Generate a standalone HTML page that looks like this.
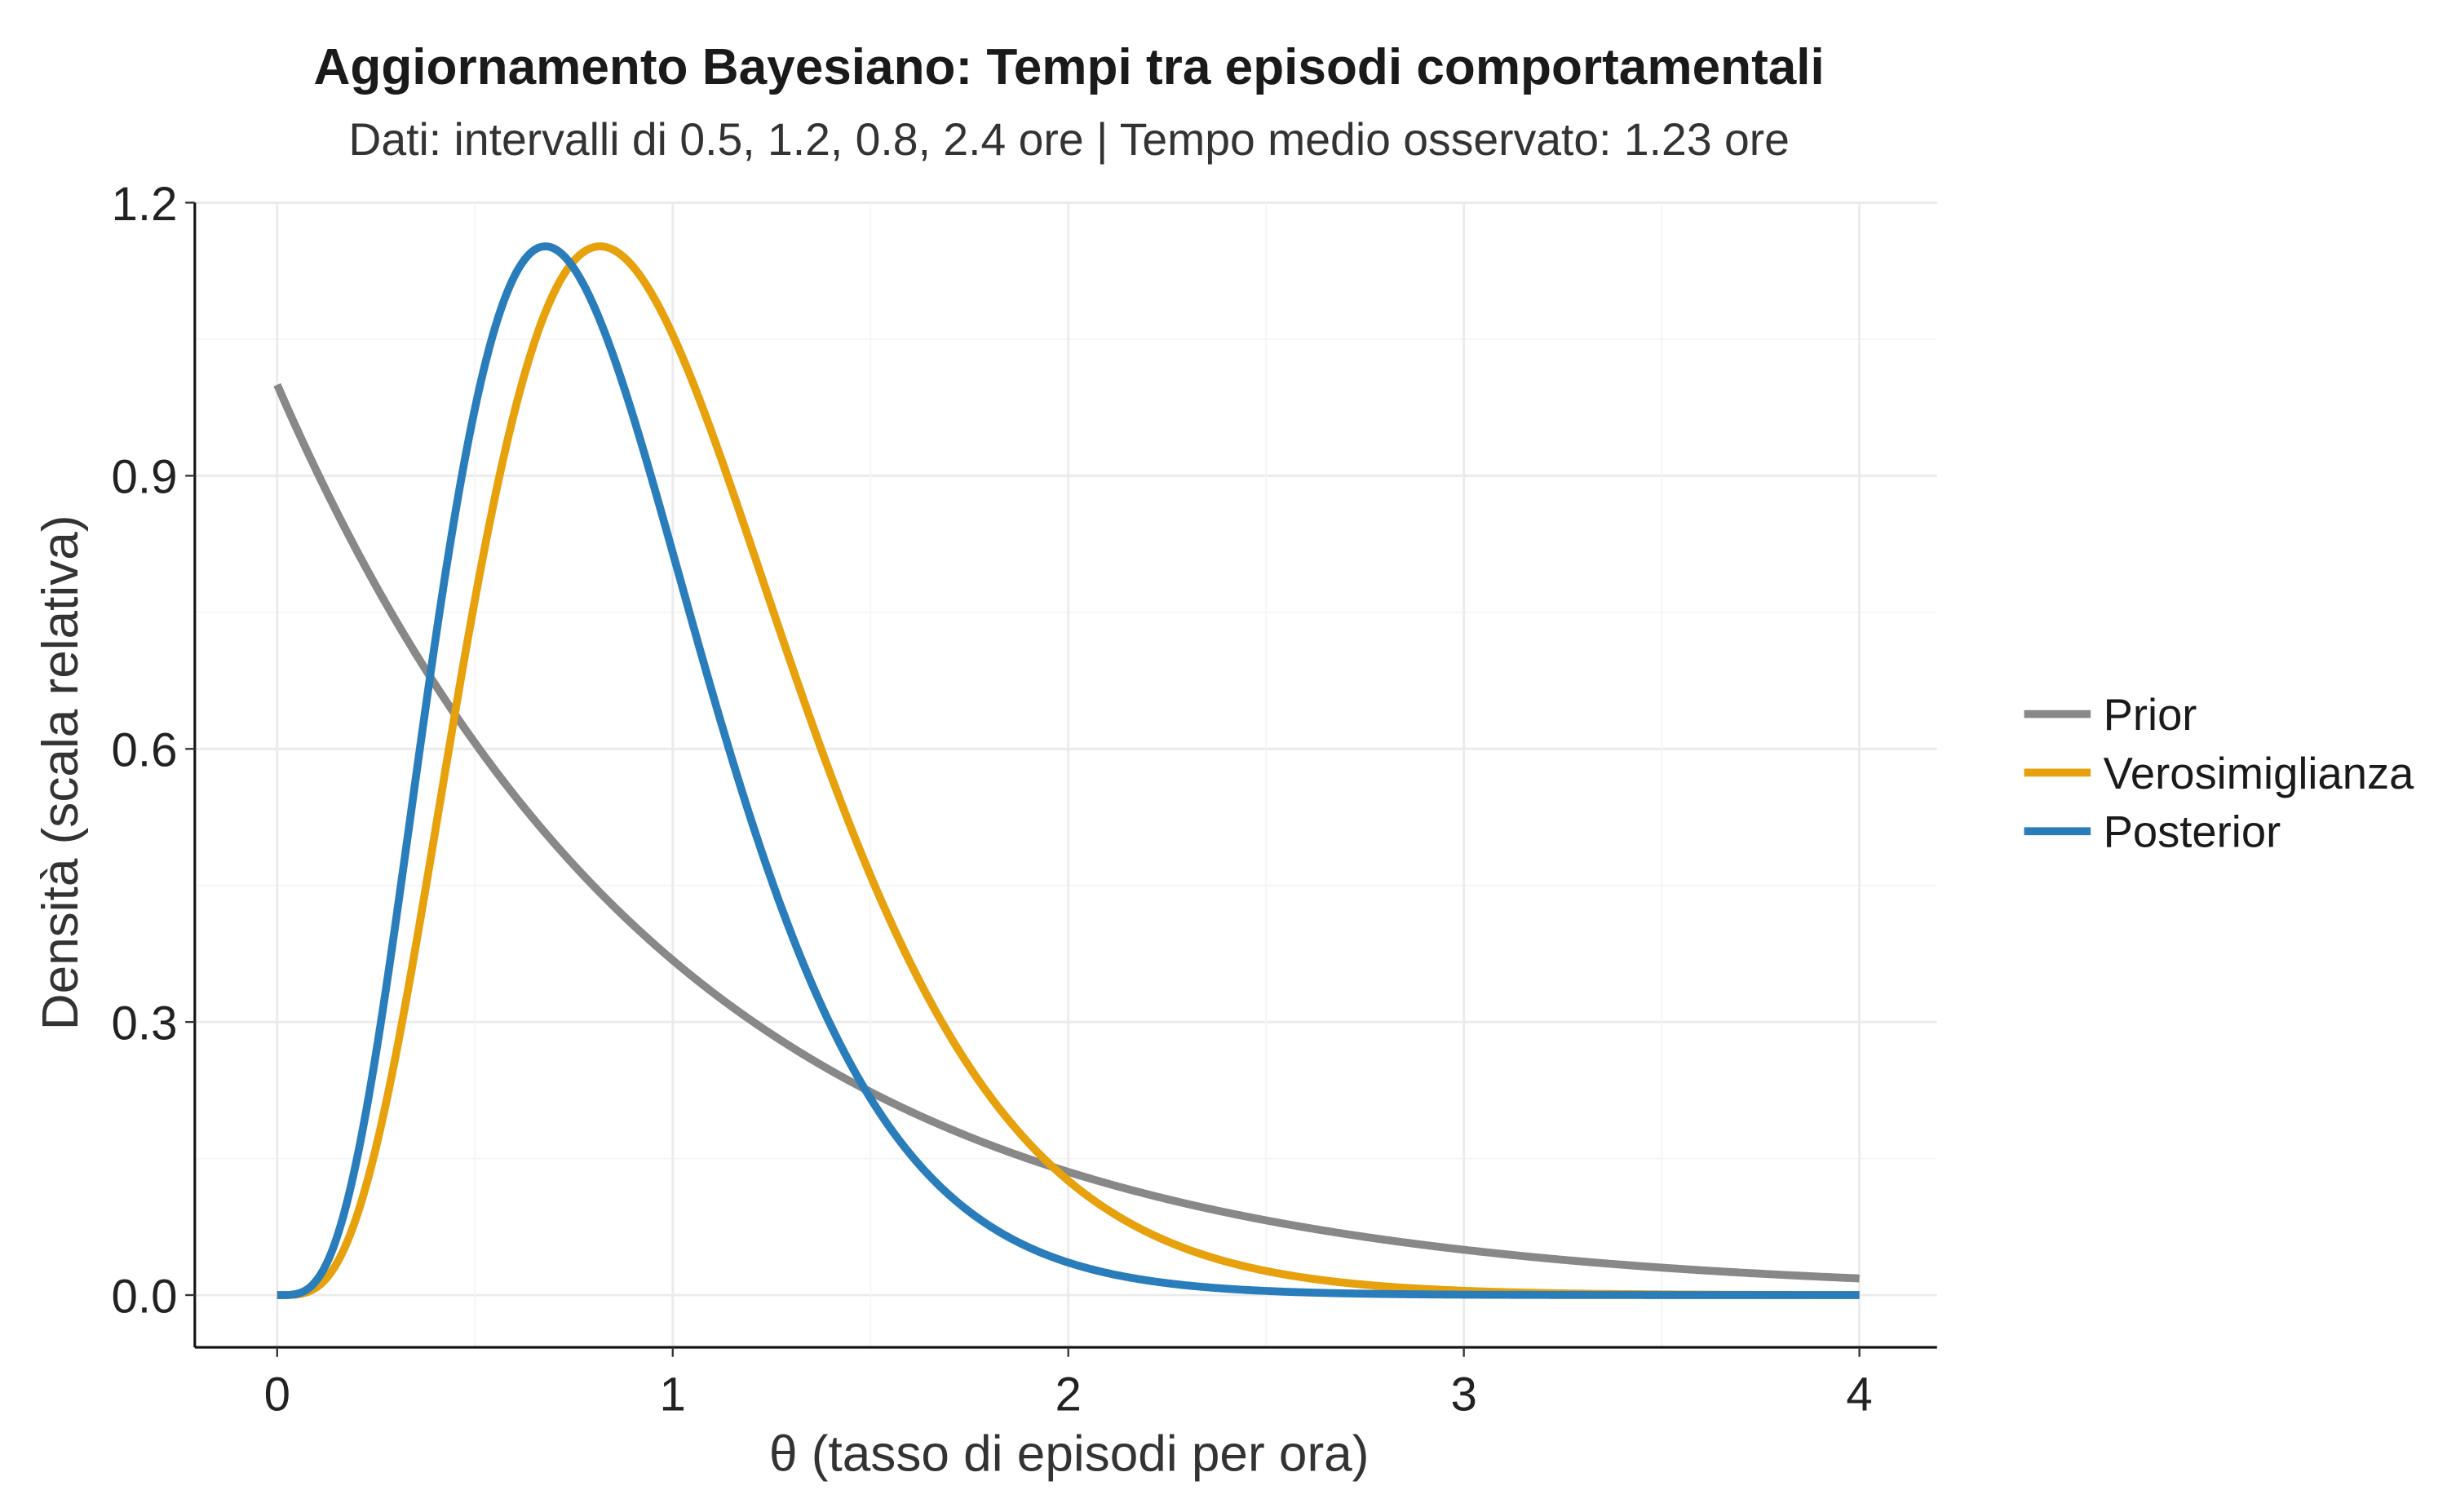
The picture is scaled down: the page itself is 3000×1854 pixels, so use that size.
<!DOCTYPE html>
<html><head><meta charset="utf-8"><style>
html,body{margin:0;padding:0;background:#fff}
svg{display:block}
text{font-family:"Liberation Sans",sans-serif}
</style></head><body>
<svg id="s" width="3000" height="1854" viewBox="0 0 1545 955" preserveAspectRatio="none" xmlns="http://www.w3.org/2000/svg">
<rect width="1545" height="955" fill="#fff"/>
<g id="grid"></g>
<g id="curves" fill="none" stroke-width="5" stroke-linejoin="round"></g>
<line x1="123" y1="128" x2="123" y2="851" stroke="#111" stroke-width="1.6"/>
<line x1="123" y1="851" x2="1223" y2="851" stroke="#111" stroke-width="1.6"/>
<g id="ticks"></g>
<text x="675" y="53" text-anchor="middle" font-size="32" font-weight="bold" fill="#1a1a1a">Aggiornamento Bayesiano: Tempi tra episodi comportamentali</text>
<text x="675" y="98" text-anchor="middle" font-size="28.5" fill="#333">Dati: intervalli di 0.5, 1.2, 0.8, 2.4 ore | Tempo medio osservato: 1.23 ore</text>
<text x="675" y="929" text-anchor="middle" font-size="32" fill="#333">θ (tasso di episodi per ora)</text>
<text transform="translate(49,488) rotate(-90)" text-anchor="middle" font-size="32" fill="#333">Densità (scala relativa)</text>
<line x1="1278" y1="451" x2="1320" y2="451" stroke="#888" stroke-width="5"/>
<line x1="1278" y1="488" x2="1320" y2="488" stroke="#E6A10C" stroke-width="5"/>
<line x1="1278" y1="525" x2="1320" y2="525" stroke="#2A7DBB" stroke-width="5"/>
<text x="1328" y="461" font-size="28" fill="#1a1a1a">Prior</text>
<text x="1328" y="498" font-size="28" fill="#1a1a1a">Verosimiglianza</text>
<text x="1328" y="535" font-size="28" fill="#1a1a1a">Posterior</text>
</svg>
<script>
var NS="http://www.w3.org/2000/svg";
function X(t){return 175+t*249.75}
function Y(v){return 818-v*575}
function el(p,tag,a){var e=document.createElementNS(NS,tag);for(var k in a)e.setAttribute(k,a[k]);p.appendChild(e);return e}
var g=document.getElementById('grid'),tk=document.getElementById('ticks');
for(var i=0;i<=8;i++){var v=i*0.15;el(g,'line',{x1:123,x2:1223,y1:Y(v),y2:Y(v),stroke:i%2?'#f5f5f5':'#ebebeb','stroke-width':i%2?1:1.5});}
for(var i=0;i<=8;i++){var t=i*0.5;el(g,'line',{y1:128,y2:851,x1:X(t),x2:X(t),stroke:i%2?'#f5f5f5':'#ebebeb','stroke-width':i%2?1:1.5});}
for(var i=0;i<=4;i++){var v=i*0.3;el(tk,'line',{x1:117,x2:123,y1:Y(v),y2:Y(v),stroke:'#333','stroke-width':1.2});
 var e=el(tk,'text',{x:112,y:Y(v)+11,'text-anchor':'end','font-size':30,fill:'#222'});e.textContent=v.toFixed(1);}
for(var i=0;i<=4;i++){el(tk,'line',{x1:X(i),x2:X(i),y1:851,y2:857,stroke:'#333','stroke-width':1.2});
 var e=el(tk,'text',{x:X(i),y:891,'text-anchor':'middle','font-size':30,fill:'#222'});e.textContent=i;}
var lik=function(t){return Math.pow(t,4)*Math.exp(-4.9*t)},post=function(t){return Math.pow(t,4)*Math.exp(-5.9*t)};
var lm=lik(4/4.9),pm=post(4/5.9);
var series=[[function(t){return Math.exp(-t)},'#888'],[function(t){return lik(t)/lm*1.152},'#E6A10C'],[function(t){return post(t)/pm*1.152},'#2A7DBB']];
var c=document.getElementById('curves');
series.forEach(function(s){var d='';for(var i=0;i<=800;i++){var t=4*i/800;d+=(i?'L':'M')+X(t).toFixed(2)+','+Y(s[0](t)).toFixed(2)}
 el(c,'path',{d:d,stroke:s[1]});});
</script>
</body></html>
